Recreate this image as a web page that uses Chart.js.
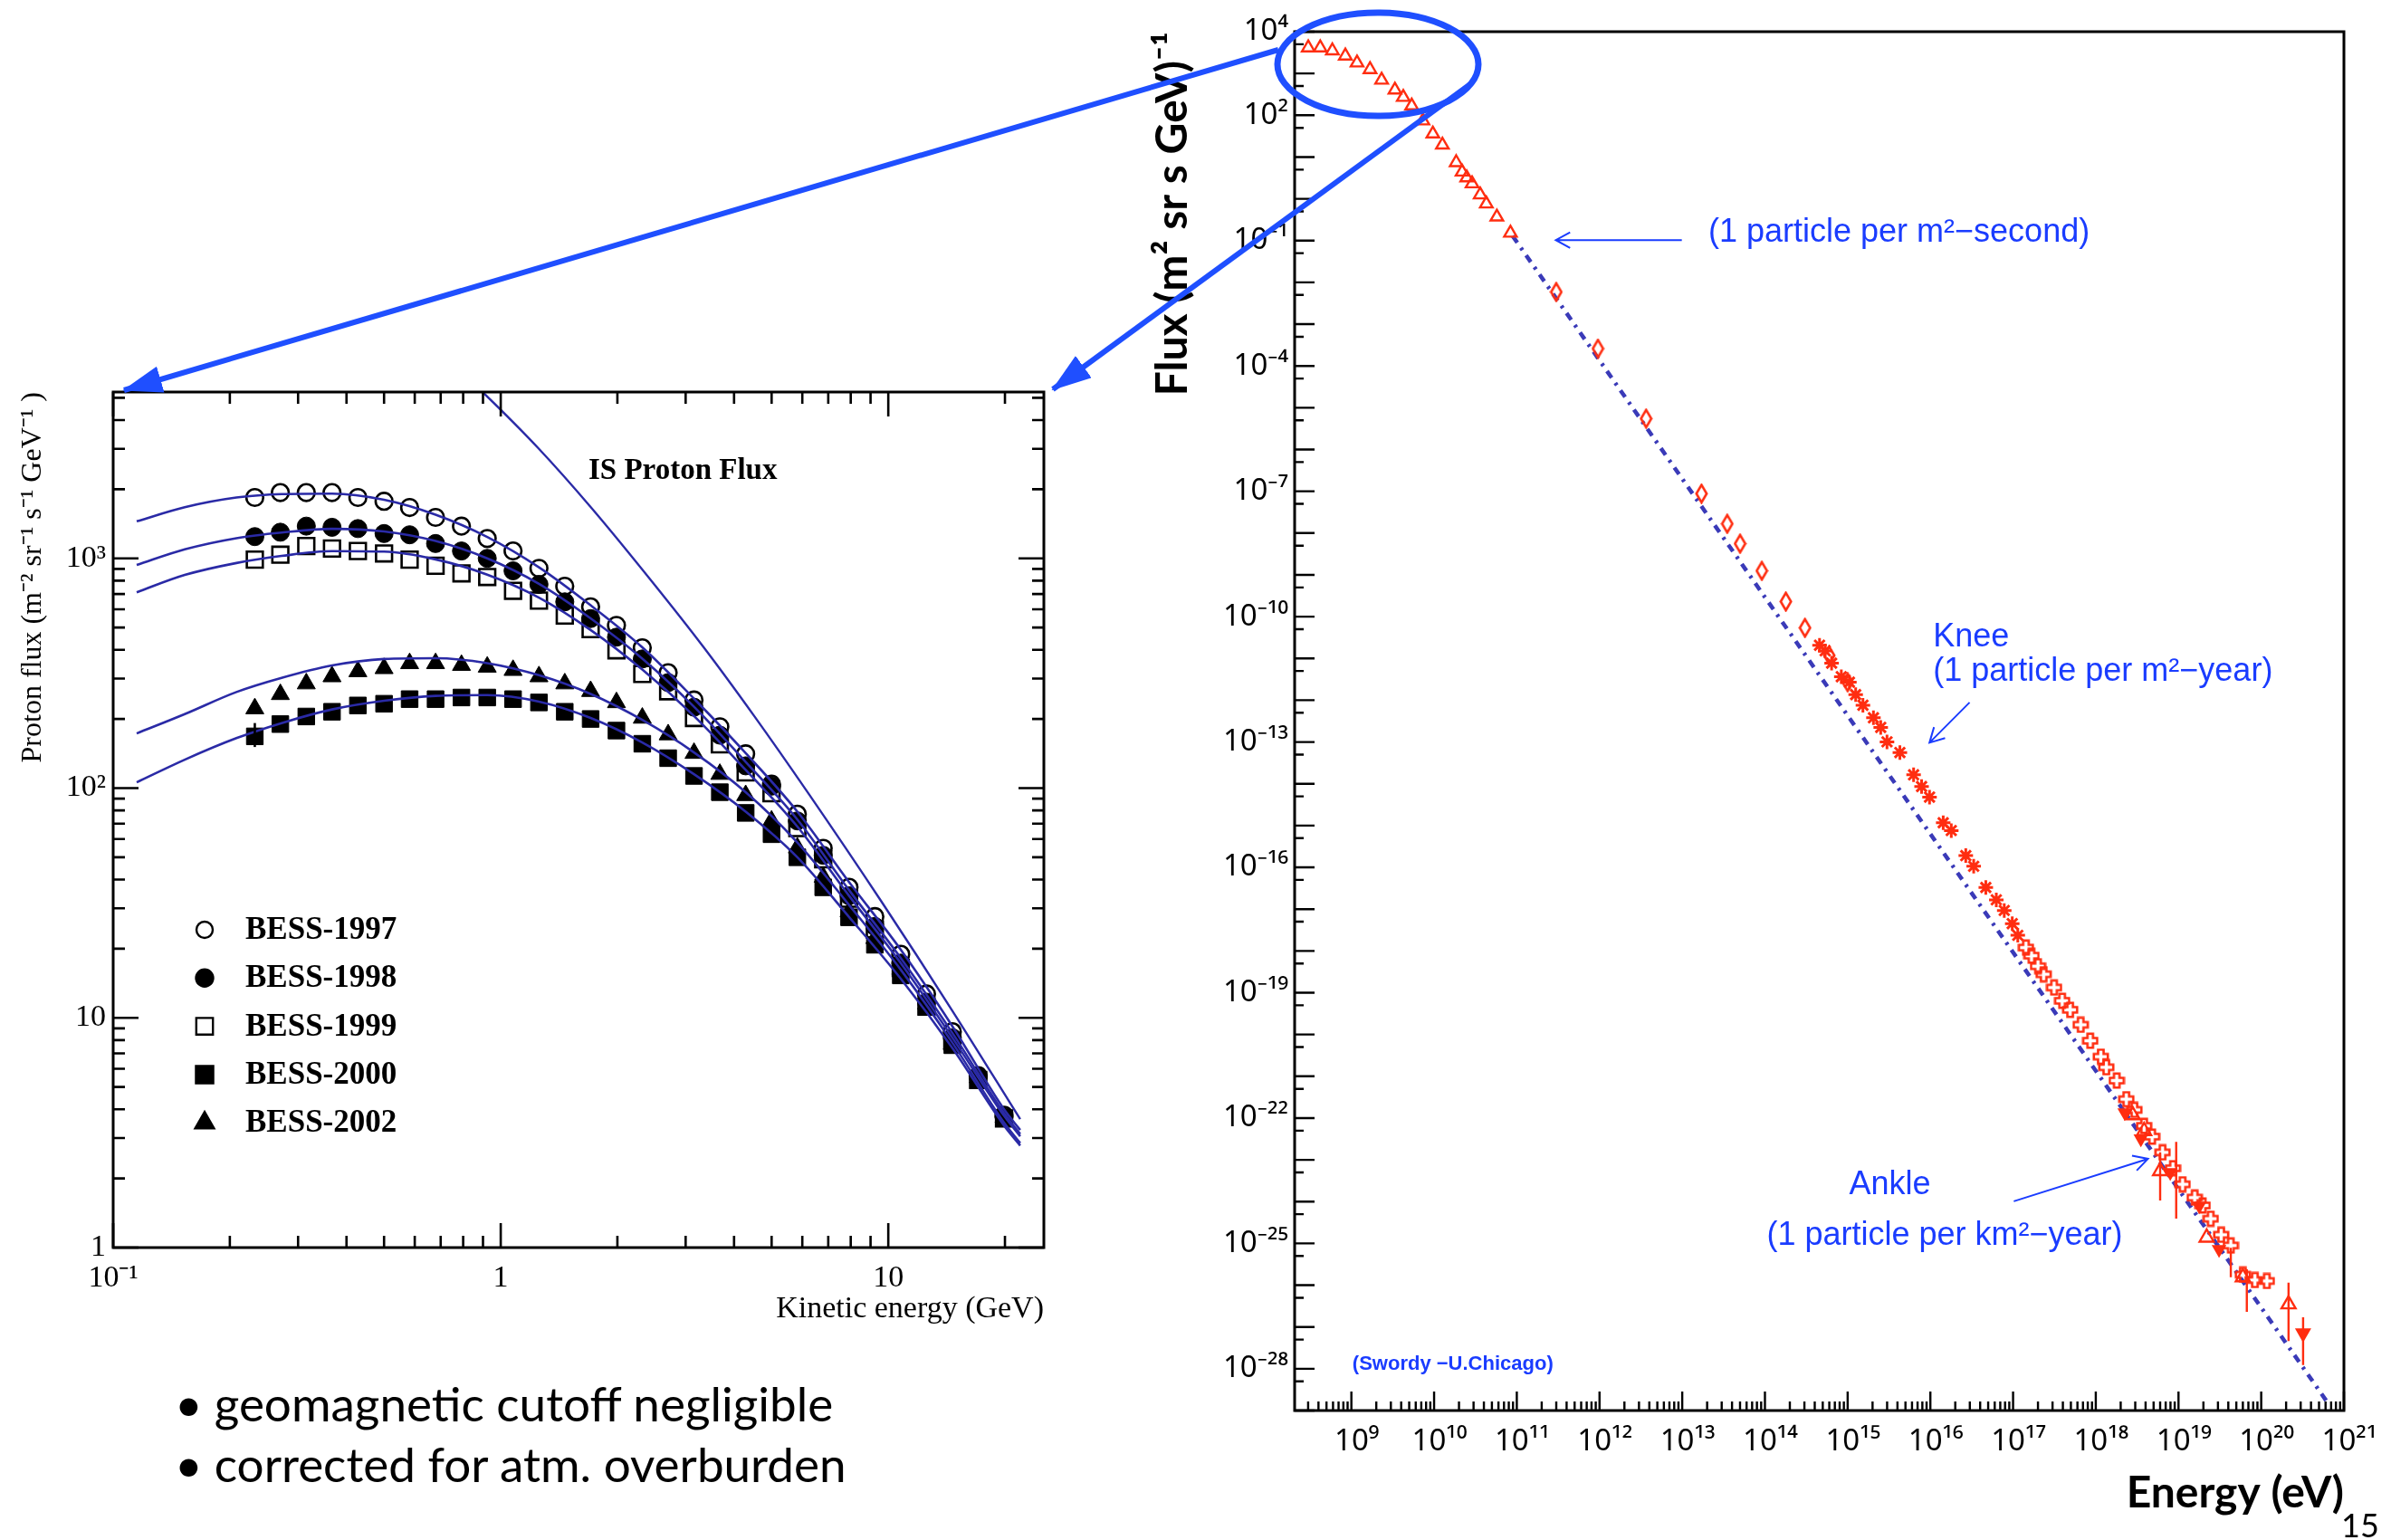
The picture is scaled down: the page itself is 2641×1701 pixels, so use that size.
<!DOCTYPE html>
<html>
<head>
<meta charset="utf-8">
<script src="https://cdn.jsdelivr.net/npm/chart.js@4.4.1/dist/chart.umd.min.js"></script>
<style>
  html, body { margin: 0; padding: 0; background: #fff; }
  body { width: 2641px; height: 1701px; position: relative; overflow: hidden; }
  canvas { position: absolute; }
  #left { left: 0; top: 380px; }
  #right { left: 1230px; top: 0; }
  #overlay { position: absolute; left: 0; top: 0; pointer-events: none; }
  .bul { position: absolute; left: 193px; font-family: Lato, "Open Sans", sans-serif; font-size: 53px; line-height: 64px; color: #000; white-space: nowrap; }
  .bul span { margin-left: 13px; }
  .page { position: absolute; left: 2586px; top: 1662px; font-family: Lato, sans-serif; font-size: 36px; color: #000; }
</style>
</head>
<body>
<canvas id="left" width="1200" height="1120"></canvas>
<canvas id="right" width="1411" height="1701"></canvas>
<svg id="overlay" width="2641" height="1701">
  <defs>
    <marker id="head" markerUnits="userSpaceOnUse" markerWidth="44" markerHeight="30" refX="42" refY="15" orient="auto">
      <path d="M0,0 L44,15 L0,30 Z" fill="#1f4fff"/>
    </marker>
  </defs>
  <ellipse cx="1522" cy="71" rx="111" ry="57" fill="none" stroke="#1f4fff" stroke-width="7"/>
  <line x1="1412" y1="55" x2="137" y2="431" stroke="#1f4fff" stroke-width="6" marker-end="url(#head)"/>
  <line x1="1624" y1="93" x2="1163" y2="430" stroke="#1f4fff" stroke-width="6" marker-end="url(#head)"/>
</svg>
<div class="bul" style="top:1518px">•<span>geomagnetic cutoff negligible</span></div>
<div class="bul" style="top:1585px">•<span>corrected for atm. overburden</span></div>
<div class="page">15</div>
<script>
// ---- left panel: BESS proton flux (GeV, m^-2 sr^-1 s^-1 GeV^-1) ----
const kineticEnergy = [0.232, 0.270, 0.315, 0.367, 0.428, 0.500, 0.582, 0.679, 0.792, 0.923,
  1.076, 1.255, 1.463, 1.706, 1.989, 2.319, 2.704, 3.153, 3.676, 4.286,
  4.997, 5.826, 6.793, 7.920, 9.234, 10.77, 12.55, 14.63, 17.06, 19.89];
const bess1997 = [1841, 1934, 1934, 1934, 1841, 1773, 1666, 1508, 1382, 1220,
  1077, 905, 756, 615, 511, 408, 318, 242, 185, 141,
  104, 77, 54.7, 37, 27.6, 18.9, 12.7, 8.7, 5.6, 3.77];
const bess1998 = [1244, 1300, 1382, 1366, 1348, 1283, 1267, 1161, 1077, 1000,
  883, 770, 647, 547, 454, 365, 288, 225, 170, 125,
  102, 72, 51, 34, 25, 17.3, 11.7, 8.2, 5.5, 3.7];
const bess1999 = [988, 1038, 1132, 1104, 1077, 1051, 988, 929, 861, 830,
  723, 655, 564, 492, 398, 314, 264, 202, 155, 117,
  95, 67, 49, 33, 24.2, 16.5, 11.2, 7.9, 5.37, 3.65];
const bess2000 = [168, 190, 205, 215, 229, 233, 244, 244, 248, 248,
  244, 236, 215, 200, 178, 156, 135, 113, 96, 78,
  63, 50, 37, 27.4, 20.8, 15.3, 11.2, 7.6, 5.37, 3.65];
const bess2002 = [222, 256, 285, 306, 322, 332, 349, 349, 343, 337,
  326, 306, 285, 264, 236, 202, 171, 142, 115, 93,
  72, 55, 41, 29, 22.2, 16.3, 11.5, 7.7, 5.5, 3.7];

// fitted modulated spectra and the interstellar flux
const fitEnergy = [0.115, 0.153, 0.208, 0.272, 0.367, 0.5, 0.679, 0.923, 1.255, 1.706,
  2.319, 3.153, 4.286, 5.826, 7.92, 10.77, 14.63, 19.89, 21.9];
const fit1997 = [1450, 1670, 1840, 1905, 1915, 1800, 1550, 1240, 915, 625, 410, 245, 142, 79, 39, 19.8, 9.2, 4.0, 3.25];
const fit1998 = [936, 1095, 1225, 1295, 1345, 1310, 1190, 1000, 775, 548, 366, 226, 130, 73, 36, 18.2, 8.6, 3.85, 3.12];
const fit1999 = [712, 847, 955, 1025, 1075, 1070, 990, 850, 675, 488, 328, 206, 120, 68, 34, 17.3, 8.2, 3.75, 3.05];
const fit2000 = [106, 133, 165, 192, 220, 240, 252, 254, 238, 202, 158, 115, 79, 50, 27.5, 14.8, 7.4, 3.4, 2.78];
const fit2002 = [173, 210, 262, 302, 342, 365, 368, 350, 310, 257, 198, 143, 96, 58, 31, 16.2, 7.8, 3.5, 2.85];
const isEnergy = [0.85, 0.897, 1.25, 1.716, 2.455, 3.33, 4.5, 6.24, 9.6, 14.6, 21.9];
const isFlux = [5780, 5310, 3020, 1656, 794, 413, 207, 94.2, 32.1, 10.8, 3.62];
const leftErrE = [0.232], leftErrLo = [151], leftErrHi = [192];

const leftXTicks = [0.1, 1, 10];
const leftXLabels = ['10⁻¹', '1', '10'];
const leftYTicks = [1, 10, 100, 1000];
const leftYLabels = ['1', '10', '10²', '10³'];

// ---- right panel: all-particle cosmic ray spectrum (eV, m^-2 sr^-1 s^-1 GeV^-1) ----
const lowE = [3.01e8, 4.20e8, 5.89e8, 8.45e8, 1.17e9, 1.68e9, 2.32e9, 3.36e9, 4.24e9, 5.36e9,
  7.33e9, 9.66e9, 1.26e10, 1.85e10, 2.18e10, 2.48e10, 2.88e10, 3.61e10, 4.28e10, 5.74e10, 8.38e10];
const lowFlux = [4.14e3, 4.14e3, 3.51e3, 2.64e3, 1.80e3, 1.25e3, 698, 404, 270, 169,
  74, 36, 19.5, 7.4, 4.4, 3.2, 2.3, 1.25, 0.76, 0.37, 0.152];
const diamondE = [3.00e11, 9.57e11, 3.66e12, 1.71e13, 3.50e13, 5.01e13, 9.16e13, 1.79e14, 3.05e14, 5.98e14, 1.0e15];
const diamondFlux = [5.9e-3, 2.6e-4, 5.5e-6, 8.8e-8, 1.67e-8, 5.6e-9, 1.25e-9, 2.3e-10, 5.4e-11, 1.18e-11, 2.7e-12];
const starE = [4.57e14, 5.35e14, 6.40e14, 8.38e14, 1.05e15, 1.25e15, 1.53e15, 2.05e15, 2.51e15, 2.99e15,
  4.28e15, 6.27e15, 7.83e15, 9.77e15, 1.43e16, 1.79e16, 2.68e16, 3.34e16, 4.68e16, 6.27e16,
  7.82e16, 9.77e16, 1.14e17];
const starFlux = [2.07e-11, 1.52e-11, 7.7e-12, 3.66e-12, 2.70e-12, 1.36e-12, 7.6e-13, 3.8e-13, 2.24e-13, 1.01e-13,
  5.6e-14, 1.64e-14, 8.6e-15, 4.8e-15, 1.17e-15, 7.6e-16, 1.91e-16, 1.06e-16, 3.3e-17, 1.67e-17,
  9.3e-18, 4.5e-18, 2.36e-18];
const crossE = [1.43e17, 1.67e17, 2.00e17, 2.34e17, 3.13e17, 3.92e17, 4.90e17, 6.56e17, 8.57e17, 1.15e18,
  1.34e18, 1.79e18, 2.34e18, 2.93e18, 3.84e18, 4.80e18, 6.41e18, 8.57e18, 1.12e19, 1.57e19,
  1.96e19, 2.45e19, 3.28e19, 4.29e19, 6.00e19, 8.38e19, 1.17e20];
const crossFlux = [1.20e-18, 7.7e-19, 4.3e-19, 2.77e-19, 1.33e-19, 6.4e-20, 3.9e-20, 1.71e-20, 7.1e-21, 2.95e-21,
  1.64e-21, 7.9e-22, 2.83e-22, 1.57e-22, 6.5e-23, 3.6e-23, 1.51e-23, 6.3e-24, 2.6e-24, 1.25e-24,
  8.1e-25, 3.9e-25, 1.61e-25, 8.9e-26, 1.79e-26, 1.33e-26, 1.26e-26];
const highTriE = [2.80e18, 3.84e18, 6.00e18, 2.19e19, 6.00e19, 2.14e20];
const highTriFlux = [1.17e-22, 4.9e-23, 5.4e-24, 1.38e-25, 1.55e-26, 3.5e-27];
const downTriE = [2.24e18, 3.51e18, 7.94e18, 1.78e19, 3.09e19];
const downTriFlux = [1.35e-22, 3.2e-23, 5.0e-24, 7.9e-25, 7.2e-26];
const limitE = [3.21e20], limitFlux = [7.1e-28];
const rightErrE = [6.00e18, 9.38e18, 4.29e19, 6.70e19, 2.14e20, 3.21e20];
const rightErrLo = [1.07e-24, 3.9e-25, 1.55e-26, 2.29e-27, 4.6e-28, 1.23e-28];
const rightErrHi = [1.51e-23, 2.7e-23, 7.8e-26, 2.4e-26, 1.15e-26, 1.7e-27];
const powerLawE = [8.9e10, 6.3e20];
const powerLawFlux = [0.129, 1.58e-29];

const rightXTicks = [1e9, 1e10, 1e11, 1e12, 1e13, 1e14, 1e15, 1e16, 1e17, 1e18, 1e19, 1e20, 1e21];
const rightXLabels = ['10⁹', '10¹⁰', '10¹¹', '10¹²', '10¹³', '10¹⁴', '10¹⁵', '10¹⁶', '10¹⁷', '10¹⁸', '10¹⁹', '10²⁰', '10²¹'];
const rightYTicks = [1e4, 1e2, 1e-1, 1e-4, 1e-7, 1e-10, 1e-13, 1e-16, 1e-19, 1e-22, 1e-25, 1e-28];
const rightYLabels = ['10⁴', '10²', '10⁻¹', '10⁻⁴', '10⁻⁷', '10⁻¹⁰', '10⁻¹³', '10⁻¹⁶', '10⁻¹⁹', '10⁻²²', '10⁻²⁵', '10⁻²⁸'];

const serif = '"Liberation Serif", "Times New Roman", serif';
const sans = '"Liberation Sans", Arial, sans-serif';
const tickSans = '"Noto Sans", "DejaVu Sans", sans-serif';
const RED = '#ff2d10';
const NOTE = '#1a3cff';
const FIT = '#2a2aa6';

const pts = (xs, ys) => xs.map((v, i) => ({x: v, y: ys[i]}));

// ROOT-style frame with inward ticks
const frameTicks = {
  id: 'frameTicks',
  afterDatasetsDraw(chart, args, o) {
    const {ctx, chartArea: a, scales} = chart;
    ctx.save();
    ctx.strokeStyle = '#000';
    ctx.lineWidth = o.width;
    ctx.beginPath();
    const axis = (key, spec) => {
      const s = scales[key];
      const put = (v, len) => {
        const p = s.getPixelForValue(v);
        if (p < (key === 'x' ? a.left : a.top) - 1 || p > (key === 'x' ? a.right : a.bottom) + 1) return;
        spec.sides.forEach(side => {
          if (side === 'bottom') { ctx.moveTo(p, a.bottom); ctx.lineTo(p, a.bottom - len); }
          if (side === 'top') { ctx.moveTo(p, a.top); ctx.lineTo(p, a.top + len); }
          if (side === 'left') { ctx.moveTo(a.left, p); ctx.lineTo(a.left + len, p); }
          if (side === 'right') { ctx.moveTo(a.right, p); ctx.lineTo(a.right - len, p); }
        });
      };
      spec.major.forEach(v => put(v, spec.majorLen));
      spec.minor.forEach(v => put(v, spec.minorLen));
    };
    axis('x', o.x);
    axis('y', o.y);
    ctx.stroke();
    ctx.lineWidth = o.frameWidth;
    ctx.strokeRect(a.left, a.top, a.right - a.left, a.bottom - a.top);
    ctx.restore();
  }
};

const errorBars = {
  id: 'errorBars',
  afterDatasetsDraw(chart, args, o) {
    const {ctx, scales: {x, y}} = chart;
    ctx.save();
    ctx.strokeStyle = o.color;
    ctx.lineWidth = o.width;
    ctx.beginPath();
    o.e.forEach((e, i) => {
      const px = x.getPixelForValue(e);
      ctx.moveTo(px, y.getPixelForValue(o.lo[i]));
      ctx.lineTo(px, y.getPixelForValue(o.hi[i]));
    });
    ctx.stroke();
    ctx.restore();
  }
};

// legend and label inside the BESS frame
const bessLegend = {
  id: 'bessLegend',
  afterDraw(chart, args, o) {
    const {ctx, chartArea: a} = chart;
    ctx.save();
    ctx.textBaseline = 'middle';
    ctx.textAlign = 'left';
    ctx.fillStyle = '#000';
    ctx.font = 'bold 33px ' + serif;
    ctx.fillText(o.title, a.left + 525, a.top + 87);
    ctx.font = 'bold 35px ' + serif;
    const sets = chart.data.datasets.filter(d => d.label.startsWith('BESS'));
    sets.forEach((d, i) => {
      const x = a.left + 101, y = a.top + 594 + i * 53.3;
      ctx.fillStyle = d.backgroundColor;
      ctx.strokeStyle = '#000';
      ctx.lineWidth = 2.4;
      Chart.helpers.drawPoint(ctx, {pointStyle: d.pointStyle, radius: d.legendRadius, borderWidth: 2.4, rotation: 0}, x, y);
      ctx.fillStyle = '#000';
      ctx.fillText(d.label, x + 45, y + 1);
    });
    ctx.restore();
  }
};

// blue annotations on the all-particle spectrum
const notes = {
  id: 'notes',
  afterDraw(chart, args, o) {
    const {ctx, scales: {x, y}} = chart;
    ctx.save();
    ctx.fillStyle = o.color;
    ctx.strokeStyle = o.color;
    ctx.textBaseline = 'middle';
    ctx.textAlign = 'left';
    o.texts.forEach(t => {
      ctx.font = t.font;
      ctx.fillText(t.text, x.getPixelForValue(t.x), y.getPixelForValue(t.y));
    });
    ctx.lineWidth = 2;
    o.arrows.forEach(ar => {
      const x0 = x.getPixelForValue(ar.from[0]), y0 = y.getPixelForValue(ar.from[1]);
      const x1 = x.getPixelForValue(ar.to[0]), y1 = y.getPixelForValue(ar.to[1]);
      const ang = Math.atan2(y1 - y0, x1 - x0), h = 18;
      ctx.beginPath();
      ctx.moveTo(x0, y0); ctx.lineTo(x1, y1);
      ctx.moveTo(x1 - h * Math.cos(ang - 0.5), y1 - h * Math.sin(ang - 0.5));
      ctx.lineTo(x1, y1);
      ctx.lineTo(x1 - h * Math.cos(ang + 0.5), y1 - h * Math.sin(ang + 0.5));
      ctx.stroke();
    });
    ctx.restore();
  }
};

function openCross(size, lw, color) {
  const c = document.createElement('canvas');
  c.width = c.height = size;
  const g = c.getContext('2d');
  const m = lw / 2 + 0.5, a = size * 0.34, b = size * 0.66, s = size - m;
  g.strokeStyle = color; g.lineWidth = lw;
  g.beginPath();
  g.moveTo(a, m); g.lineTo(b, m); g.lineTo(b, a); g.lineTo(s, a); g.lineTo(s, b); g.lineTo(b, b);
  g.lineTo(b, s); g.lineTo(a, s); g.lineTo(a, b); g.lineTo(m, b); g.lineTo(m, a); g.lineTo(a, a);
  g.closePath(); g.stroke();
  return c;
}
function tallDiamond(w, h, lw, color) {
  const c = document.createElement('canvas');
  c.width = w; c.height = h;
  const g = c.getContext('2d');
  const m = lw / 2 + 0.5;
  g.strokeStyle = color; g.lineWidth = lw;
  g.beginPath();
  g.moveTo(w / 2, m); g.lineTo(w - m, h / 2); g.lineTo(w / 2, h - m); g.lineTo(m, h / 2);
  g.closePath(); g.stroke();
  return c;
}

const minorTicks = (decades, mult, lo, hi) => {
  const out = [];
  decades.forEach(d => mult.forEach(k => { const v = k * d; if (v >= lo && v <= hi) out.push(v); }));
  return out;
};

// ---------------- left chart ----------------
const fitLine = (ys) => ({
  label: 'fit', data: pts(fitEnergy, ys), showLine: true, pointRadius: 0,
  borderColor: FIT, borderWidth: 2.6, cubicInterpolationMode: 'monotone', order: 0
});
const marker = (label, ys, style, filled, r, legendRadius) => ({
  label, data: pts(kineticEnergy, ys), pointStyle: style, pointRadius: r, legendRadius,
  backgroundColor: filled ? '#000' : 'rgba(0,0,0,0)', borderColor: '#000',
  pointBorderWidth: filled ? 1 : 2.6, order: 1
});

new Chart(document.getElementById('left'), {
  type: 'scatter',
  data: {
    datasets: [
      marker('BESS-1997', bess1997, 'circle', false, 9.3, 9),
      marker('BESS-1998', bess1998, 'circle', true, 10, 9.5),
      marker('BESS-1999', bess1999, 'rect', false, 12.5, 13),
      marker('BESS-2000', bess2000, 'rect', true, 13, 13.5),
      marker('BESS-2002', bess2002, 'triangle', true, 11.5, 12),
      fitLine(fit1997), fitLine(fit1998), fitLine(fit1999), fitLine(fit2000), fitLine(fit2002),
      {label: 'IS', data: pts(isEnergy, isFlux), showLine: true, pointRadius: 0,
       borderColor: FIT, borderWidth: 2.4, cubicInterpolationMode: 'monotone', order: 0}
    ]
  },
  options: {
    responsive: false, animation: false, devicePixelRatio: 1, events: [],
    layout: {padding: {left: 5, top: 53, right: 47, bottom: 22}},
    plugins: {
      legend: {display: false}, tooltip: {enabled: false},
      frameTicks: {
        width: 2.6, frameWidth: 3,
        x: {major: leftXTicks, minor: minorTicks([0.1, 1, 10], [2, 3, 4, 5, 6, 7, 8, 9], 0.1, 25.2),
            majorLen: 27, minorLen: 13, sides: ['bottom', 'top']},
        y: {major: leftYTicks, minor: minorTicks([1, 10, 100, 1000], [2, 3, 4, 5, 6, 7, 8, 9], 1, 5300),
            majorLen: 28, minorLen: 13, sides: ['left', 'right']}
      },
      errorBars: {color: '#000', width: 2.6, e: leftErrE, lo: leftErrLo, hi: leftErrHi},
      bessLegend: {title: 'IS Proton Flux'}
    },
    scales: {
      x: {
        type: 'logarithmic', min: 0.1, max: 25.2, bounds: 'data',
        afterBuildTicks: s => { s.ticks = leftXTicks.map(v => ({value: v})); },
        afterFit: s => { s.height = 100; },
        grid: {display: false, drawTicks: false}, border: {display: false},
        ticks: {autoSkip: false, maxRotation: 0, padding: 14, color: '#000',
                font: {family: serif, size: 34}, callback: v => leftXLabels[leftXTicks.indexOf(v)]},
        title: {display: true, text: 'Kinetic energy (GeV)', align: 'end', color: '#000',
                font: {family: serif, size: 34}, padding: {top: 0, bottom: 12}}
      },
      y: {
        type: 'logarithmic', min: 1, max: 5300, bounds: 'data',
        afterBuildTicks: s => { s.ticks = leftYTicks.map(v => ({value: v})); },
        afterFit: s => { s.width = 120; },
        grid: {display: false, drawTicks: false}, border: {display: false},
        ticks: {autoSkip: false, padding: 8, color: '#000',
                font: {family: serif, size: 34}, callback: v => leftYLabels[leftYTicks.indexOf(v)]},
        title: {display: true, text: 'Proton flux (m⁻² sr⁻¹ s⁻¹ GeV⁻¹ )', align: 'end', color: '#000',
                font: {family: serif, size: 32}, padding: {top: 12, bottom: 0}}
      }
    }
  },
  plugins: [frameTicks, errorBars, bessLegend]
});

// ---------------- right chart ----------------
const redSet = (label, xs, ys, extra) => Object.assign({
  label, data: pts(xs, ys), borderColor: RED, backgroundColor: 'rgba(0,0,0,0)',
  pointBorderWidth: 2.4, order: 1
}, extra);

const decades = [];
for (let k = -29; k <= 20; k++) decades.push(Math.pow(10, k));

new Chart(document.getElementById('right'), {
  type: 'scatter',
  data: {
    datasets: [
      {label: 'E^-2.7', data: pts(powerLawE, powerLawFlux), showLine: true, pointRadius: 0,
       borderColor: '#3a3ab8', borderWidth: 4.5, borderDash: [9, 7, 3, 7], order: 2},
      redSet('low energy', lowE, lowFlux, {pointStyle: 'triangle', pointRadius: 8}),
      redSet('direct', diamondE, diamondFlux, {pointStyle: tallDiamond(15, 23, 2.6, RED), pointRadius: 10}),
      redSet('knee', starE, starFlux, {pointStyle: 'star', pointRadius: 8, pointBorderWidth: 3}),
      redSet('air shower', crossE, crossFlux, {pointStyle: openCross(19, 2.6, RED), pointRadius: 9}),
      redSet('ankle', highTriE, highTriFlux, {pointStyle: 'triangle', pointRadius: 9}),
      redSet('fly', downTriE, downTriFlux, {pointStyle: 'triangle', rotation: 180, pointRadius: 7, backgroundColor: RED}),
      redSet('limit', limitE, limitFlux, {pointStyle: 'triangle', rotation: 180, pointRadius: 8, backgroundColor: RED})
    ]
  },
  options: {
    responsive: false, animation: false, devicePixelRatio: 1, events: [],
    layout: {padding: {left: 20, top: 35, right: 52, bottom: 23}},
    plugins: {
      legend: {display: false}, tooltip: {enabled: false},
      frameTicks: {
        width: 2.4, frameWidth: 3,
        x: {major: rightXTicks, minor: minorTicks(decades, [2, 3, 4, 5, 6, 7, 8, 9], 2.06e8, 1e21),
            majorLen: 21, minorLen: 10, sides: ['bottom']},
        y: {major: decades.concat([1e1, 1e2, 1e3, 1e4]), minor: minorTicks(decades.concat([1e1, 1e2, 1e3]), [5], 1e-29, 1e4),
            majorLen: 22, minorLen: 10, sides: ['left']}
      },
      errorBars: {color: RED, width: 2.4, e: rightErrE, lo: rightErrLo, hi: rightErrHi},
      notes: {
        color: NOTE,
        texts: [
          {text: '(1 particle per m²−second)', x: 2.07e13, y: 0.154, font: '36px ' + sans},
          {text: 'Knee', x: 1.08e16, y: 3.14e-11, font: '36px ' + sans},
          {text: '(1 particle per m²−year)', x: 1.08e16, y: 4.71e-12, font: '36px ' + sans},
          {text: 'Ankle', x: 1.04e15, y: 2.46e-24, font: '36px ' + sans},
          {text: '(1 particle per km²−year)', x: 1.05e14, y: 1.55e-25, font: '36px ' + sans},
          {text: '(Swordy −U.Chicago)', x: 1.03e9, y: 1.26e-28, font: 'bold 22px ' + sans}
        ],
        arrows: [
          {from: [9.89e12, 0.103], to: [2.96e11, 0.103]},
          {from: [2.98e16, 8.85e-13], to: [9.75e15, 9.6e-14]},
          {from: [1.02e17, 1.02e-24], to: [4.28e18, 1.06e-23]}
        ]
      }
    },
    scales: {
      x: {
        type: 'logarithmic', min: 2.06e8, max: 1e21, bounds: 'data',
        afterBuildTicks: s => { s.ticks = rightXTicks.map(v => ({value: v})); },
        afterFit: s => { s.height = 120; },
        grid: {display: false, drawTicks: false}, border: {display: false},
        ticks: {autoSkip: false, maxRotation: 0, padding: 15, labelOffset: 6, color: '#000',
                font: {family: tickSans, size: 33}, callback: v => rightXLabels[rightXTicks.indexOf(v)]},
        title: {display: true, text: 'Energy (eV)', align: 'end', color: '#000',
                font: {family: 'Lato, ' + sans, size: 48, weight: 'bold'}, padding: {top: 0, bottom: 0}}
      },
      y: {
        type: 'logarithmic', min: 1e-29, max: 1e4, bounds: 'data',
        afterBuildTicks: s => { s.ticks = rightYTicks.map(v => ({value: v})); },
        afterFit: s => { s.width = 180; },
        grid: {display: false, drawTicks: false}, border: {display: false},
        ticks: {autoSkip: false, padding: 7, color: '#000',
                font: {family: tickSans, size: 33}, callback: v => rightYLabels[rightYTicks.indexOf(v)]},
        title: {display: true, text: 'Flux (m² sr s GeV)⁻¹', align: 'end', color: '#000',
                font: {family: 'Lato, ' + sans, size: 48, weight: 'bold'}, padding: {top: 17, bottom: 0}}
      }
    }
  },
  plugins: [frameTicks, errorBars, notes]
});
</script>
</body>
</html>
